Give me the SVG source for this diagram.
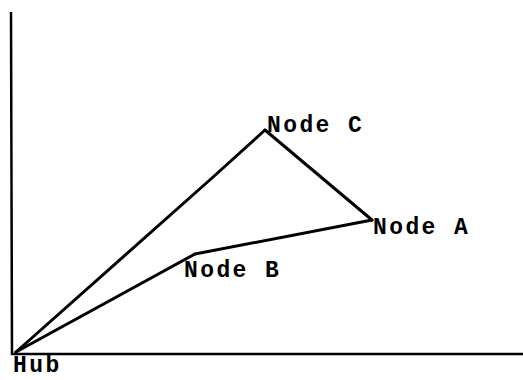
<svg xmlns="http://www.w3.org/2000/svg" width="523" height="380" viewBox="0 0 523 380">
<style>
.ax{stroke:#000;stroke-width:2.5;fill:none}
.ln{stroke:#000;stroke-width:3;fill:none;stroke-linejoin:round;stroke-linecap:round}
.lb{font-family:"Liberation Mono","Courier New",monospace;font-size:23px;font-weight:bold;fill:#000;letter-spacing:2.4px}
</style>
<rect width="523" height="380" fill="#fff"/>
<g id="axes">
<path class="ax" d="M11,12 L12,354 L523,354"/>
</g>
<g id="connectors">
<path class="ln" d="M16,352 L212,178 L265,130"/>
<path class="ln" d="M265,130 L372,220"/>
<path class="ln" d="M372,220 L195,254"/>
<path class="ln" d="M195,254 L16,352"/>
</g>
<g id="hub"><text class="lb" x="13" y="372">Hub</text></g>
<g id="nodeC"><text class="lb" x="267" y="132">Node C</text></g>
<g id="nodeA"><text class="lb" x="373" y="234">Node A</text></g>
<g id="nodeB"><text class="lb" x="184" y="277">Node B</text></g>
</svg>
